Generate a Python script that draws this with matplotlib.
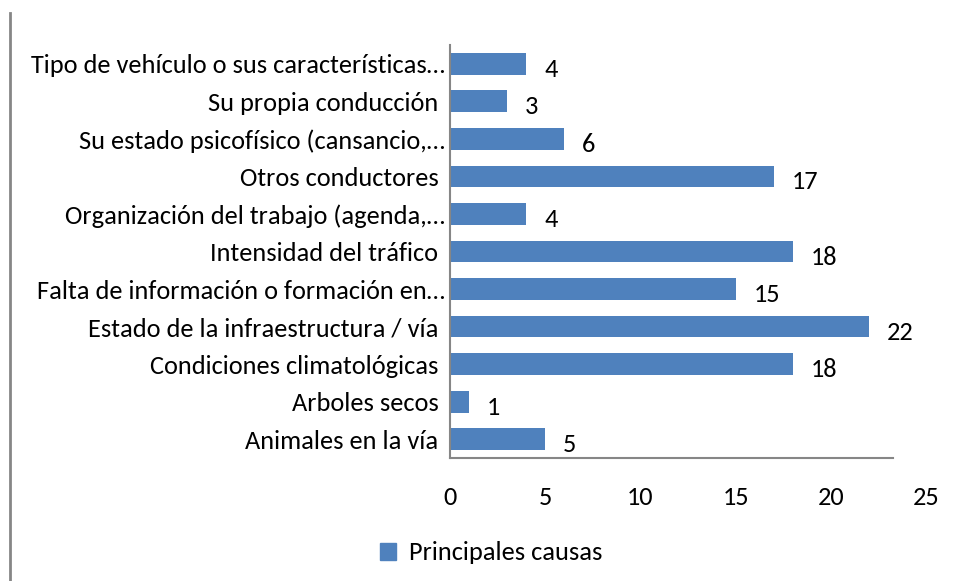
import matplotlib
matplotlib.use("Agg")
import matplotlib.pyplot as plt
from matplotlib.lines import Line2D
from matplotlib.patches import Patch

plt.rcParams['font.family'] = ['Carlito', 'Lato', 'DejaVu Sans']

categories = [
    "Animales en la vía ",
    "Arboles secos ",
    "Condiciones climatológicas ",
    "Estado de la infraestructura / vía ",
    "Falta de información o formación en…",
    "Intensidad del tráfico ",
    "Organización del trabajo (agenda,…",
    "Otros conductores ",
    "Su estado psicofísico (cansancio,…",
    "Su propia conducción ",
    "Tipo de vehículo o sus características…",
]
values = [5, 1, 18, 22, 15, 18, 4, 17, 6, 3, 4]
xticks = [0, 5, 10, 15, 20, 25]
series_name = "Principales causas"

bar_color = "#4F81BD"
axis_color = "#868686"
fs = 19

fig = plt.figure(figsize=(9.57, 5.81), dpi=100)
# axes spans 0..25 from x=450 to x=926 px
ax = fig.add_axes([450 / 957, (581 - 458) / 581, (926 - 450) / 957, (458 - 45) / 581])

ypos = list(range(len(categories)))
ax.barh(ypos, values, height=0.58, color=bar_color)
for y, v in zip(ypos, values):
    ax.annotate(str(v), (v, y), xytext=(13, -4), textcoords="offset points",
                ha="left", va="center", fontsize=fs)

ax.set_xlim(0, 25)
ax.set_ylim(-0.5, len(categories) - 0.5)
ax.set_xticks(xticks)
ax.set_yticks(ypos)
ax.set_yticklabels(categories)
ax.tick_params(axis="both", length=0, labelsize=fs)
ax.tick_params(axis="x", pad=20)
ax.tick_params(axis="y", pad=4)
for s in ["top", "right"]:
    ax.spines[s].set_visible(False)
for s in ["left", "bottom"]:
    ax.spines[s].set_color(axis_color)
    ax.spines[s].set_linewidth(1.5)
# the horizontal axis line stops short of the last tick in the original
ax.spines["bottom"].set_bounds(0, 25 * (893 - 450) / (926 - 450))

leg = fig.legend(handles=[Patch(color=bar_color, label=series_name)],
                 loc="center", bbox_to_anchor=(491 / 957, 1 - 553 / 581),
                 frameon=False, fontsize=fs, handlelength=0.6, handleheight=0.6,
                 handletextpad=0.5)

fig.add_artist(Line2D([10 / 957, 10 / 957], [0, 1 - 13 / 581], color=axis_color, lw=2))

fig.savefig("out.png", dpi=100)
